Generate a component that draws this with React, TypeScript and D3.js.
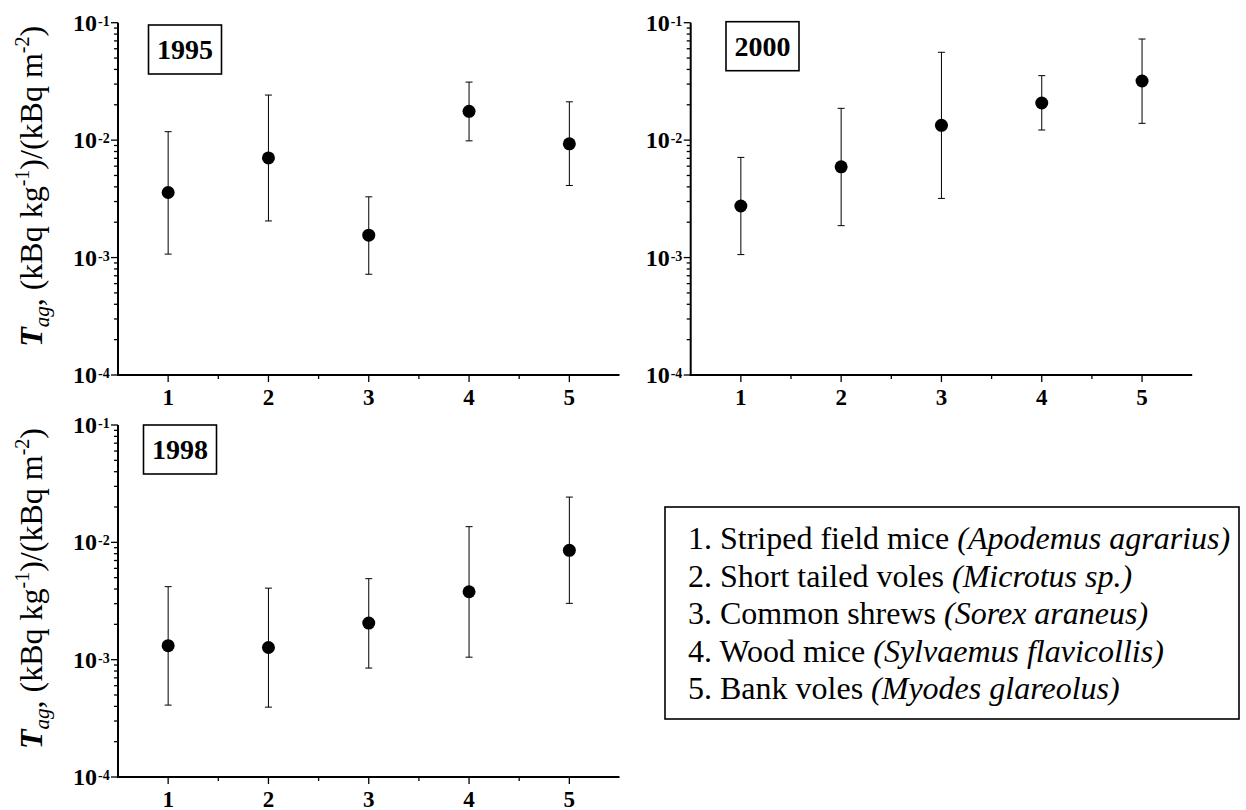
import React from "react";
import * as d3 from "d3";

const speciesIds = [1, 2, 3, 4, 5];
const xTickLabels = ["1", "2", "3", "4", "5"];

const mean1995 = [0.00358, 0.00706, 0.00155, 0.0176, 0.0093];
const upper1995 = [0.0118, 0.0242, 0.00329, 0.0312, 0.0212];
const lower1995 = [0.00107, 0.00205, 0.000721, 0.00986, 0.00411];

const mean2000 = [0.00275, 0.00593, 0.01336, 0.0207, 0.0319];
const upper2000 = [0.00713, 0.01866, 0.056, 0.0354, 0.0726];
const lower2000 = [0.00106, 0.00187, 0.00319, 0.0122, 0.0139];

const mean1998 = [0.001315, 0.00127, 0.00205, 0.00379, 0.00855];
const upper1998 = [0.00419, 0.00407, 0.0049, 0.0136, 0.0243];
const lower1998 = [0.00041, 0.000394, 0.000848, 0.00105, 0.00302];

const yDecades = [1e-4, 1e-3, 1e-2, 1e-1];
const yExponents = ["-4", "-3", "-2", "-1"];

const legendNames = [
  "1. Striped field mice ",
  "2. Short tailed voles ",
  "3. Common shrews ",
  "4. Wood mice ",
  "5. Bank voles ",
];
const legendLatin = [
  "(Apodemus agrarius)",
  "(Microtus sp.)",
  "(Sorex araneus)",
  "(Sylvaemus flavicollis)",
  "(Myodes glareolus)",
];

const FONT = '"Liberation Serif", "Times New Roman", "DejaVu Serif", serif';

type PanelProps = {
  left: number;
  top: number;
  width: number;
  height: number;
  year: string;
  boxX: number;
  boxY: number;
  mean: number[];
  upper: number[];
  lower: number[];
  title: boolean;
};

function YTitle({ x, cy }: { x: number; cy: number }) {
  return (
    <text
      transform={`translate(${x},${cy}) rotate(-90)`}
      textAnchor="middle"
      style={{ fontFamily: FONT, fontSize: 32 }}
      fill="#000"
    >
      <tspan fontStyle="italic" fontWeight="bold">T</tspan>
      <tspan fontStyle="italic" style={{ fontSize: 21 }} dy={7}>ag</tspan>
      <tspan dy={-7}>, (kBq kg</tspan>
      <tspan style={{ fontSize: 20 }} dy={-13}>-1</tspan>
      <tspan dy={13}>)/(kBq m</tspan>
      <tspan style={{ fontSize: 20 }} dy={-13}>-2</tspan>
      <tspan dy={13}>)</tspan>
    </text>
  );
}

function Panel(p: PanelProps) {
  const x = d3.scaleLinear().domain([0.5, 5.5]).range([p.left, p.left + p.width]);
  const y = d3.scaleLog().domain([1e-4, 1e-1]).range([p.top + p.height, p.top]);
  const allTicks = y.ticks();
  const minorX = [1.5, 2.5, 3.5, 4.5];
  const bottom = p.top + p.height;
  const bold = { fontFamily: FONT, fontWeight: 700 } as React.CSSProperties;
  return (
    <g>
      {allTicks.map((t, i) => {
        const isMajor = yDecades.some((d) => Math.abs(d - t) / d < 1e-6);
        const len = isMajor ? 7 : 4;
        return (
          <line key={"yt" + i} x1={p.left - len} x2={p.left} y1={y(t)} y2={y(t)} stroke="#000" strokeWidth={1.3} />
        );
      })}
      {yDecades.map((d, i) => (
        <text key={"yl" + i} x={p.left - 21} y={y(d) + 8} textAnchor="end" style={{ ...bold, fontSize: 24 }} fill="#000">
          10
        </text>
      ))}
      {yDecades.map((d, i) => (
        <text key={"ye" + i} x={p.left - 20} y={y(d) + 3} textAnchor="start" style={{ ...bold, fontSize: 14 }} fill="#000">
          {yExponents[i]}
        </text>
      ))}
      {speciesIds.map((s, i) => (
        <line key={"xt" + i} x1={x(s)} x2={x(s)} y1={bottom} y2={bottom + 7} stroke="#000" strokeWidth={1.3} />
      ))}
      {minorX.map((s, i) => (
        <line key={"xm" + i} x1={x(s)} x2={x(s)} y1={bottom} y2={bottom + 4} stroke="#000" strokeWidth={1.3} />
      ))}
      {speciesIds.map((s, i) => (
        <text key={"xl" + i} x={x(s)} y={bottom + 29.5} textAnchor="middle" style={{ ...bold, fontSize: 23 }} fill="#000">
          {xTickLabels[i]}
        </text>
      ))}
      <line x1={p.left} x2={p.left} y1={p.top} y2={bottom + 1} stroke="#000" strokeWidth={2} />
      <line x1={p.left - 1} x2={p.left + p.width} y1={bottom} y2={bottom} stroke="#000" strokeWidth={2} />
      {speciesIds.map((s, i) => (
        <g key={"eb" + i} stroke="#000" strokeWidth={1}>
          <line x1={x(s)} x2={x(s)} y1={y(p.upper[i])} y2={y(p.lower[i])} />
          <line x1={x(s) - 3.5} x2={x(s) + 3.5} y1={y(p.upper[i])} y2={y(p.upper[i])} />
          <line x1={x(s) - 3.5} x2={x(s) + 3.5} y1={y(p.lower[i])} y2={y(p.lower[i])} />
        </g>
      ))}
      {speciesIds.map((s, i) => (
        <circle key={"pt" + i} cx={x(s)} cy={y(p.mean[i])} r={6.5} fill="#000" />
      ))}
      <rect x={p.boxX} y={p.boxY} width={73} height={49} fill="#fff" stroke="#000" strokeWidth={1.6} />
      <text x={p.boxX + 36.5} y={p.boxY + 34} textAnchor="middle" style={{ ...bold, fontSize: 28 }} fill="#000">
        {p.year}
      </text>
      {p.title && <YTitle x={42} cy={p.top + p.height / 2 - 12.5} />}
    </g>
  );
}

export default function App() {
  return (
    <svg
      width={1246}
      height={810}
      style={{ position: "absolute", left: 0, top: 0, background: "#fff" }}
    >
      <rect x={0} y={0} width={1246} height={810} fill="#fff" />
      <Panel left={118} top={22.7} width={501.5} height={352.3} year="1995" boxX={148.5} boxY={25}
        mean={mean1995} upper={upper1995} lower={lower1995} title={true} />
      <Panel left={690.7} top={22.7} width={501.5} height={352.3} year="2000" boxX={726} boxY={21.7}
        mean={mean2000} upper={upper2000} lower={lower2000} title={false} />
      <Panel left={118} top={425} width={501.5} height={352} year="1998" boxX={143.5} boxY={425}
        mean={mean1998} upper={upper1998} lower={lower1998} title={true} />
      <rect x={665} y={507} width={574} height={212} fill="none" stroke="#000" strokeWidth={1.6} />
      {legendNames.map((n, i) => (
        <text key={"lg" + i} x={688} y={549 + i * 37.5} style={{ fontFamily: FONT, fontSize: 32 }} fill="#000">
          {n}
          <tspan fontStyle="italic">{legendLatin[i]}</tspan>
        </text>
      ))}
    </svg>
  );
}
